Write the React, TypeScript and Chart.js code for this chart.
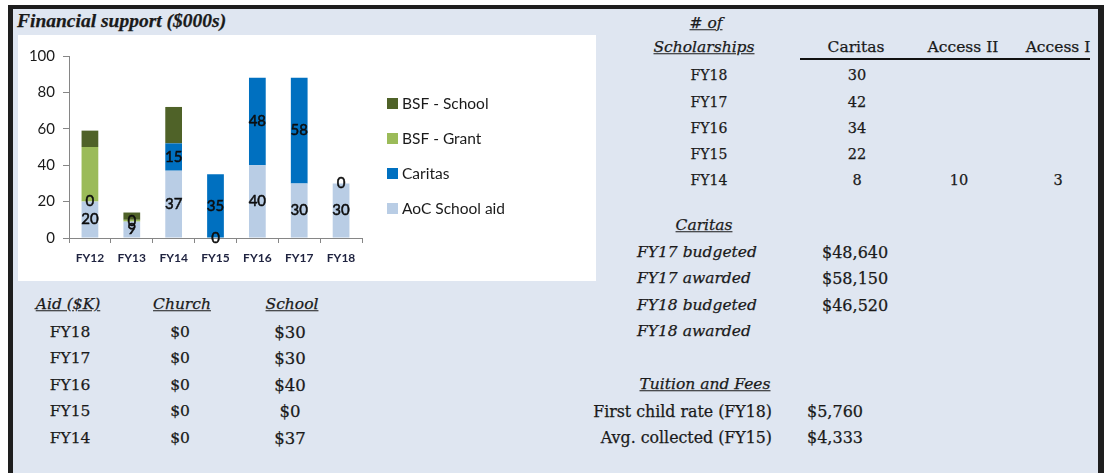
import React, { useEffect, useRef } from "react";
import { Chart, registerables } from "chart.js";

Chart.register(...registerables);

// ---------- Chart data ----------
const categories = ["FY12", "FY13", "FY14", "FY15", "FY16", "FY17", "FY18"];
const aocSchoolAid = [20, 9, 37, 0, 40, 30, 30];
const caritasAid = [0, 0, 15, 35, 48, 58, 0];
const bsfGrant = [30, 1, 0, 0, 0, 0, 0];
const bsfSchool = [9, 4, 20, 0, 0, 0, 0];
const seriesNames = ["AoC School aid", "Caritas", "BSF - Grant", "BSF - School"];
const seriesColors = ["#b9cde5", "#0070c0", "#9bbb59", "#4f6228"];
const labelledSeries = [0, 1];

// ---------- Table data ----------
const scholarshipYears = ["FY18", "FY17", "FY16", "FY15", "FY14"];
const scholarshipCaritas = ["30", "42", "34", "22", "8"];
const scholarshipAccessII = ["", "", "", "", "10"];
const scholarshipAccessI = ["", "", "", "", "3"];

const caritasBudgetLabels = ["FY17 budgeted", "FY17 awarded", "FY18 budgeted", "FY18 awarded"];
const caritasBudgetValues = ["$48,640", "$58,150", "$46,520", ""];

const tuitionLabels = ["First child rate (FY18)", "Avg. collected (FY15)"];
const tuitionValues = ["$5,760", "$4,333"];

const aidYears = ["FY18", "FY17", "FY16", "FY15", "FY14"];
const aidChurch = ["$0", "$0", "$0", "$0", "$0"];
const aidSchool = ["$30", "$30", "$40", "$0", "$37"];

const SERIF = '"DejaVu Serif", serif';
const TXT = "#1a1a1a";

type Align = "left" | "center" | "right";
function T(props: {
  x: number;
  y: number;
  align?: Align;
  italic?: boolean;
  bold?: boolean;
  underline?: boolean;
  size?: number;
  family?: string;
  children: React.ReactNode;
}) {
  const { x, y, align = "center", italic, bold, underline, size = 15.5, family = SERIF, children } = props;
  const tx = align === "center" ? "-50%" : align === "right" ? "-100%" : "0";
  return (
    <span
      style={{
        position: "absolute",
        left: x,
        top: y,
        transform: `translate(${tx}, -50%)`,
        whiteSpace: "nowrap",
        fontFamily: family,
        fontSize: size,
        lineHeight: 1,
        fontStyle: italic ? "italic" : "normal",
        fontWeight: bold ? 700 : 400,
        textDecoration: underline ? "underline" : "none",
        color: TXT,
        WebkitTextStroke: "0.25px #1a1a1a",
      }}
    >
      {children}
    </span>
  );
}

const segmentLabels = {
  id: "segmentLabels",
  afterDatasetsDraw(chart: any) {
    const ctx = chart.ctx;
    ctx.save();
    ctx.font = "15px Lato";
    ctx.fillStyle = "#0d0d0d";
    ctx.strokeStyle = "#0d0d0d";
    ctx.lineWidth = 0.5;
    ctx.textAlign = "center";
    ctx.textBaseline = "middle";
    labelledSeries.forEach((di) => {
      const meta = chart.getDatasetMeta(di);
      const data = chart.data.datasets[di].data;
      meta.data.forEach((el: any, j: number) => {
        const p = el.getProps(["x", "y", "base"], true);
        const ty = (p.y + p.base) / 2;
        ctx.fillText(String(data[j]), p.x, ty);
        ctx.strokeText(String(data[j]), p.x, ty);
      });
    });
    ctx.restore();
  },
};

// Legend drawn on the chart canvas, to the right of the plot area (series in reverse order)
const sideLegend = {
  id: "sideLegend",
  afterDraw(chart: any) {
    const { ctx, chartArea } = chart;
    const ds = chart.data.datasets;
    ctx.save();
    ctx.font = "15.5px Lato";
    ctx.textBaseline = "middle";
    ctx.textAlign = "left";
    const x0 = chartArea.right + 25;
    for (let k = 0; k < ds.length; k++) {
      const d = ds[ds.length - 1 - k];
      const cy = chartArea.top + 47.5 + k * 35;
      ctx.fillStyle = d.backgroundColor;
      ctx.fillRect(x0, Math.round(cy - 5.5), 11, 11);
      ctx.fillStyle = "#1a1a1a";
      ctx.fillText(d.label, x0 + 15, cy);
    }
    ctx.restore();
  },
};

function FinancialChart() {
  const ref = useRef<HTMLCanvasElement | null>(null);
  useEffect(() => {
    let chart: Chart | null = null;
    let cancelled = false;
    const build = () => {
      if (cancelled || !ref.current) return;
      const seriesData = [aocSchoolAid, caritasAid, bsfGrant, bsfSchool];
      chart = new Chart(ref.current, {
        type: "bar",
        data: {
          labels: categories,
          datasets: seriesData.map((d, i) => ({
            label: seriesNames[i],
            data: d,
            backgroundColor: seriesColors[i],
            borderWidth: 0,
            barPercentage: 0.4,
            categoryPercentage: 1,
          })),
        },
        options: {
          responsive: false,
          animation: false,
          layout: { padding: { top: 21, left: 0, right: 234, bottom: 13 } },
          plugins: {
            legend: { display: false },
            tooltip: { enabled: false },
          },
          scales: {
            x: {
              stacked: true,
              grid: {
                display: true,
                drawOnChartArea: false,
                drawTicks: true,
                tickLength: 5,
                color: "#868686",
              },
              border: { color: "#868686", width: 1 },
              ticks: {
                color: "#1f2340",
                padding: 8,
                font: { family: "Lato", size: 12, weight: "bold" },
              },
              afterFit: (s: any) => {
                s.height = 30;
              },
            },
            y: {
              stacked: true,
              min: 0,
              max: 100,
              grid: {
                display: true,
                drawOnChartArea: false,
                drawTicks: true,
                tickLength: 6,
                color: "#868686",
              },
              border: { color: "#868686", width: 1 },
              ticks: {
                stepSize: 20,
                color: "#1a1a1a",
                padding: 8,
                font: { family: "Lato", size: 15 },
              },
              afterFit: (s: any) => {
                s.width = 51;
              },
            },
          },
        } as any,
        plugins: [segmentLabels, sideLegend],
      });
    };
    const fonts: any = (document as any).fonts;
    if (fonts && fonts.load) {
      Promise.all([
        fonts.load("15.5px Lato"),
        fonts.load("15px Lato"),
        fonts.load("bold 12px Lato"),
      ])
        .catch(() => null)
        .then(build);
    } else {
      build();
    }
    return () => {
      cancelled = true;
      if (chart) chart.destroy();
    };
  }, []);
  return <canvas ref={ref} width={578} height={246} style={{ display: "block" }} />;
}

export default function App() {
  const schRows = [75, 101.5, 128, 154, 180];
  const carRows = [253, 279, 306, 332];
  const tuiRows = [412, 438];
  const aidRows = [333, 359, 386, 412, 439];
  return (
    <div
      style={{
        position: "absolute",
        left: 0,
        top: 0,
        width: 1104,
        height: 473,
        background: "#ffffff",
        overflow: "hidden",
      }}
    >
      <div
        style={{
          position: "absolute",
          left: 8,
          top: 5,
          width: 1104 - 8 - 5 - 6,
          height: 480,
          background: "#dfe6f1",
          borderLeft: "5px solid #1e1e1e",
          borderTop: "4px solid #1e1e1e",
          borderRight: "6px solid #1e1e1e",
        }}
      />
      <T x={17} y={21} align="left" italic bold size={19.5} family='"Liberation Serif", serif'>
        Financial support ($000s)
      </T>
      <div
        style={{
          position: "absolute",
          left: 18,
          top: 35,
          width: 578,
          height: 246,
          background: "#ffffff",
        }}
      >
        <FinancialChart />
      </div>

      {/* Scholarships */}
      <T x={706} y={24} italic underline>
        # of
      </T>
      <T x={704} y={48} italic underline>
        Scholarships
      </T>
      <T x={856} y={48}>Caritas</T>
      <T x={963} y={48}>Access II</T>
      <T x={1058} y={48}>Access I</T>
      <div
        style={{
          position: "absolute",
          left: 800,
          top: 58,
          width: 290,
          height: 2,
          background: "#111",
        }}
      />
      {scholarshipYears.map((yr, i) => (
        <React.Fragment key={yr}>
          <T x={709} y={schRows[i]} size={14}>{yr}</T>
          <T x={857} y={schRows[i]} size={14.5}>{scholarshipCaritas[i]}</T>
          <T x={959} y={schRows[i]} size={14.5}>{scholarshipAccessII[i]}</T>
          <T x={1058} y={schRows[i]} size={14.5}>{scholarshipAccessI[i]}</T>
        </React.Fragment>
      ))}

      {/* Caritas */}
      <T x={704} y={226} italic underline>
        Caritas
      </T>
      {caritasBudgetLabels.map((lb, i) => (
        <React.Fragment key={lb}>
          <T x={637} y={carRows[i]} align="left" italic>
            {lb}
          </T>
          <T x={822} y={carRows[i]} align="left" size={16}>
            {caritasBudgetValues[i]}
          </T>
        </React.Fragment>
      ))}

      {/* Tuition */}
      <T x={705} y={385} italic underline>
        Tuition and Fees
      </T>
      {tuitionLabels.map((lb, i) => (
        <React.Fragment key={lb}>
          <T x={772} y={tuiRows[i]} align="right" size={15.8}>
            {lb}
          </T>
          <T x={807} y={tuiRows[i]} align="left" size={16}>
            {tuitionValues[i]}
          </T>
        </React.Fragment>
      ))}

      {/* Aid */}
      <T x={68} y={305} italic underline>
        Aid ($K)
      </T>
      <T x={182} y={305} italic underline>
        Church
      </T>
      <T x={292} y={305} italic underline>
        School
      </T>
      {aidYears.map((yr, i) => (
        <React.Fragment key={yr}>
          <T x={70} y={aidRows[i]}>{yr}</T>
          <T x={180} y={aidRows[i]}>{aidChurch[i]}</T>
          <T x={290} y={aidRows[i]} size={16.5}>{aidSchool[i]}</T>
        </React.Fragment>
      ))}
    </div>
  );
}
